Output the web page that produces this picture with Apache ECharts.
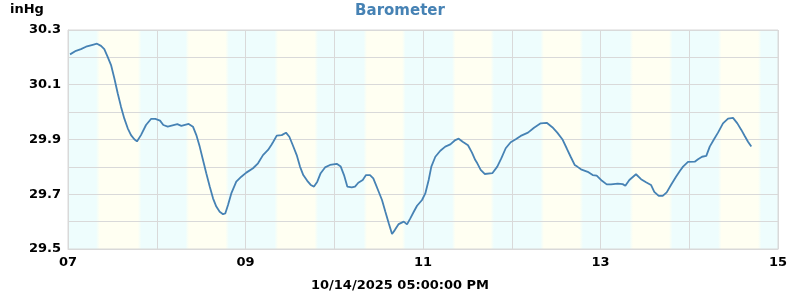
<!DOCTYPE html>
<html>
<head>
<meta charset="utf-8">
<script src="https://cdn.jsdelivr.net/npm/echarts@6/dist/echarts.min.js"></script>
<style>html,body{margin:0;padding:0;background:#fff}#c{width:800px;height:300px}</style>
</head>
<body>
<div id="c"></div>
<script>
// Time in fractional day-of-month (Oct 2025), barometer in inHg
var times = [7.023,7.090,7.146,7.203,7.278,7.327,7.372,7.409,7.447,7.485,7.522,7.560,7.597,7.634,7.673,7.710,7.747,7.777,7.822,7.879,7.935,7.984,8.037,8.074,8.124,8.232,8.277,8.360,8.408,8.446,8.484,8.521,8.558,8.597,8.634,8.671,8.709,8.747,8.772,8.803,8.840,8.896,8.953,9.009,9.085,9.141,9.197,9.254,9.291,9.313,9.352,9.408,9.456,9.494,9.532,9.577,9.614,9.651,9.696,9.735,9.772,9.809,9.847,9.896,9.952,10.028,10.073,10.110,10.147,10.197,10.234,10.271,10.321,10.358,10.403,10.440,10.463,10.501,10.538,10.576,10.614,10.651,10.682,10.726,10.783,10.820,10.857,10.896,10.933,10.989,11.026,11.064,11.094,11.139,11.195,11.251,11.308,11.364,11.402,11.447,11.507,11.552,11.589,11.612,11.650,11.695,11.781,11.837,11.882,11.932,11.988,12.045,12.101,12.183,12.251,12.326,12.394,12.457,12.513,12.570,12.619,12.664,12.709,12.738,12.780,12.856,12.912,12.957,13.017,13.070,13.118,13.194,13.250,13.280,13.325,13.400,13.457,13.513,13.569,13.606,13.656,13.701,13.746,13.794,13.851,13.896,13.930,13.986,14.062,14.099,14.144,14.192,14.231,14.279,14.324,14.380,14.437,14.493,14.542,14.587,14.625,14.662,14.699];
var pressure = [30.211,30.224,30.230,30.239,30.246,30.250,30.242,30.230,30.202,30.172,30.124,30.069,30.020,29.977,29.941,29.916,29.901,29.893,29.916,29.953,29.975,29.975,29.969,29.953,29.947,29.956,29.950,29.957,29.947,29.916,29.874,29.825,29.777,29.728,29.685,29.655,29.636,29.627,29.630,29.661,29.703,29.746,29.764,29.779,29.795,29.813,29.843,29.862,29.880,29.892,29.914,29.916,29.925,29.910,29.880,29.843,29.801,29.770,29.749,29.734,29.728,29.746,29.777,29.798,29.807,29.811,29.801,29.770,29.728,29.725,29.728,29.742,29.752,29.770,29.770,29.758,29.740,29.709,29.679,29.636,29.594,29.555,29.569,29.591,29.600,29.590,29.612,29.636,29.658,29.679,29.703,29.752,29.801,29.837,29.859,29.874,29.882,29.898,29.903,29.892,29.879,29.852,29.825,29.813,29.789,29.774,29.777,29.801,29.831,29.868,29.890,29.901,29.913,29.925,29.943,29.959,29.961,29.945,29.925,29.901,29.868,29.837,29.807,29.801,29.791,29.782,29.770,29.768,29.749,29.736,29.736,29.739,29.737,29.731,29.752,29.773,29.755,29.744,29.734,29.709,29.694,29.694,29.707,29.734,29.764,29.786,29.801,29.818,29.819,29.828,29.837,29.840,29.874,29.901,29.925,29.959,29.976,29.979,29.959,29.935,29.913,29.892,29.874];
// Daylight band edges (fractional day-of-month)
var dayStart = [7.316,8.323,9.327,10.330,11.327,12.324,13.327,14.324];
var dayEnd   = [7.828,8.813,9.817,10.803,11.800,12.803,13.811,14.814];
var xTickLabels = {7:'07',9:'09',11:'11',13:'13',15:'15'};
var yTickLabels = ['29.5','29.7','29.9','30.1','30.3'];
var titleText = 'Barometer';
var unitText = 'inHg';
var xName = '10/14/2025 05:00:00 PM';

var NIGHT = '#eefdfd', DAY = '#fffff2';
var FONT = 'DejaVu Sans';

var lineData = times.map(function(t,i){return [t, pressure[i]];});
var bands = [[{xAxis:7, itemStyle:{color:NIGHT}},{xAxis:15}]];
for (var i=0;i<dayStart.length;i++){
  bands.push([{xAxis:dayStart[i], itemStyle:{color:{type:'linear',x:0,y:0,x2:1,y2:0,colorStops:[
    {offset:0,color:NIGHT},{offset:0.08,color:DAY},{offset:0.92,color:DAY},{offset:1,color:NIGHT}]}}},
    {xAxis:dayEnd[i]}]);
}

var chart = echarts.init(document.getElementById('c'), null, {renderer:'canvas'});
chart.setOption({
  animation:false,
  textStyle:{fontFamily:FONT},
  title:[
    {text:titleText, left:'center', top:4, padding:0, textStyle:{fontFamily:FONT,fontWeight:'bold',fontSize:15,color:'#4682b4'}},
    {text:unitText, left:10, top:3, padding:0, textStyle:{fontFamily:FONT,fontWeight:'bold',fontSize:13,color:'#000'}},
    {text:xName, left:'center', top:279, padding:0, textStyle:{fontFamily:FONT,fontWeight:'bold',fontSize:13,color:'#000'}}
  ],
  grid:{left:68, right:22, top:30, bottom:51, show:true, borderColor:'#d9d9d9', borderWidth:1, backgroundColor:'transparent', z:0},
  xAxis:{
    type:'value', min:7, max:15, interval:1, z:1,
    axisLine:{show:true,lineStyle:{color:'#d9d9d9'}},
    axisTick:{show:false},
    axisLabel:{margin:7, fontFamily:FONT,fontWeight:'bold',fontSize:13,color:'#000',
      formatter:function(v){var k=Math.round(v);return xTickLabels[k]||'';}},
    splitLine:{show:true,lineStyle:{color:'#d9d9d9',width:1}}
  },
  yAxis:{
    type:'value', min:29.5, max:30.3, interval:0.1, z:1,
    axisLine:{show:true,lineStyle:{color:'#d9d9d9'}},
    axisTick:{show:false},
    axisLabel:{margin:7, fontFamily:FONT,fontWeight:'bold',fontSize:13,color:'#000',
      formatter:function(v){var s=v.toFixed(1);return yTickLabels.indexOf(s)>=0?s:'';}},
    splitLine:{show:true,lineStyle:{color:'#d9d9d9',width:1}}
  },
  series:[
    {type:'line', data:[], z:-2, silent:true,
      markArea:{silent:true, z:-2, data:bands}},
    {type:'line', data:lineData, showSymbol:false, symbol:'none', z:5,
      lineStyle:{color:'#4682b4', width:1.8}, itemStyle:{color:'#4682b4'}}
  ]
});
</script>
</body>
</html>
